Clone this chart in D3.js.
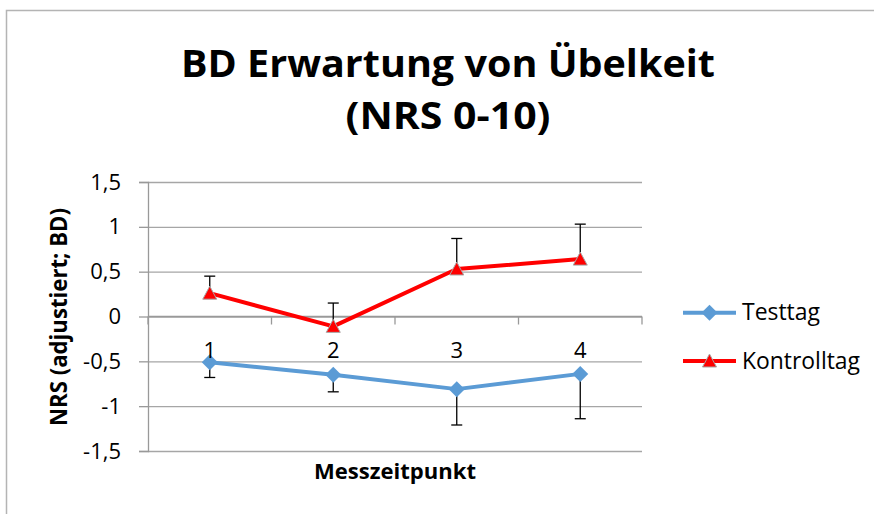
<!DOCTYPE html>
<html>
<head>
<meta charset="utf-8">
<script src="https://cdn.jsdelivr.net/npm/d3@7/dist/d3.min.js"></script>
<style>
    body { margin: 0; background: #fff; }
    svg text { font-family: "Open Sans", "DejaVu Sans", sans-serif; fill: #000; }
</style>
</head>
<body>
<div id="chart"></div>
<script>
// chart data
const categories = ["1", "2", "3", "4"];
const yTicks = [-1.5, -1, -0.5, 0, 0.5, 1, 1.5];

const testtag = [-0.51, -0.65, -0.81, -0.64];
const testtagErrMinus = [0.17, 0.19, 0.40, 0.50];

const kontrolltag = [0.26, -0.11, 0.53, 0.64];
const kontrolltagErrPlus = [0.19, 0.26, 0.34, 0.39];

const titleLines = ["BD Erwartung von Übelkeit", "(NRS 0-10)"];

const W = 874, H = 514;
const plot = { left: 148, right: 642, top: 182, bottom: 451 };

const svg = d3.select("#chart").append("svg")
    .attr("width", W)
    .attr("height", H);

// chart border (gray frame)
svg.append("path")
    .attr("d", `M6.5,${H + 5}V10.5H${W + 5}`)
    .attr("fill", "none")
    .attr("stroke", "#b4b4b4")
    .attr("stroke-width", 1.5);

// scales
const x = d3.scaleBand()
    .domain(categories)
    .range([plot.left, plot.right]);

const y = d3.scaleLinear()
    .domain([-1.5, 1.5])
    .range([plot.bottom, plot.top]);

const cx = d => x(d) + x.bandwidth() / 2;

// gridlines
svg.append("g")
    .attr("transform", `translate(${plot.left},0)`)
    .call(d3.axisLeft(y).tickValues(yTicks).tickSize(-(plot.right - plot.left)).tickFormat(""))
    .call(g => g.select(".domain").remove())
    .call(g => g.selectAll(".tick line").attr("stroke", "#a6a6a6").attr("stroke-width", 1.3));

// y axis
svg.append("g")
    .attr("transform", `translate(${plot.left},0)`)
    .call(d3.axisLeft(y).tickValues(yTicks).tickSize(9).tickPadding(18)
        .tickFormat(d => String(d).replace(".", ",")))
    .call(g => g.select(".domain").attr("stroke", "#999").attr("stroke-width", 1.3))
    .call(g => g.selectAll(".tick line").attr("stroke", "#999").attr("stroke-width", 1.3))
    .call(g => g.selectAll(".tick text").attr("font-size", 22).attr("font-family", null));

// x axis at y = 0 with ticks between categories
const xAxisG = svg.append("g")
    .attr("transform", `translate(0,${y(0)})`);

xAxisG.append("line")
    .attr("x1", plot.left).attr("x2", plot.right)
    .attr("stroke", "#999").attr("stroke-width", 1.3);

xAxisG.selectAll(".xtick")
    .data(categories.map(c => x(c)).concat([plot.right]))
    .join("line")
    .attr("class", "xtick")
    .attr("x1", d => d).attr("x2", d => d)
    .attr("y1", 0).attr("y2", 8)
    .attr("stroke", "#999").attr("stroke-width", 1.3);

// lines
const line = d3.line()
    .x((d, i) => cx(categories[i]))
    .y(d => y(d));

svg.append("path")
    .datum(testtag)
    .attr("d", line)
    .attr("fill", "none")
    .attr("stroke", "#5b9bd5")
    .attr("stroke-width", 4)
    .attr("stroke-linejoin", "round");

svg.append("path")
    .datum(kontrolltag)
    .attr("d", line)
    .attr("fill", "none")
    .attr("stroke", "#ff0000")
    .attr("stroke-width", 4)
    .attr("stroke-linejoin", "round");

// error bars
function errorBars(values, errs, sign) {
    const g = svg.append("g");
    values.forEach((v, i) => {
        const px = cx(categories[i]);
        const end = y(v + sign * errs[i]);
        g.append("line")
            .attr("x1", px).attr("x2", px)
            .attr("y1", y(v)).attr("y2", end)
            .attr("stroke", "#000").attr("stroke-width", 1.3);
        g.append("line")
            .attr("x1", px - 5.5).attr("x2", px + 5.5)
            .attr("y1", end).attr("y2", end)
            .attr("stroke", "#000").attr("stroke-width", 1.3);
    });
}
errorBars(testtag, testtagErrMinus, -1);
errorBars(kontrolltag, kontrolltagErrPlus, 1);

// markers
const diamond = "M0,-8L8,0L0,8L-8,0Z";
const triangle = "M0,-7L7,6L-7,6Z";

svg.selectAll(".dia")
    .data(testtag)
    .join("path")
    .attr("class", "dia")
    .attr("d", diamond)
    .attr("transform", (d, i) => `translate(${cx(categories[i])},${y(d)})`)
    .attr("fill", "#5b9bd5");

svg.selectAll(".tri")
    .data(kontrolltag)
    .join("path")
    .attr("class", "tri")
    .attr("d", triangle)
    .attr("transform", (d, i) => `translate(${cx(categories[i])},${y(d)})`)
    .attr("fill", "#ff0000")
    .attr("stroke", "#a6a6a6")
    .attr("stroke-width", 1);

// category labels
svg.append("g")
    .attr("transform", `translate(0,${y(0)})`)
    .call(d3.axisBottom(x).tickSize(0).tickPadding(26))
    .call(g => g.select(".domain").remove())
    .call(g => g.selectAll(".tick text").attr("font-size", 22).attr("font-family", null));

// title
svg.append("g")
    .selectAll("text")
    .data(titleLines)
    .join("text")
    .attr("x", 448)
    .attr("y", (d, i) => 77 + i * 51.6)
    .attr("text-anchor", "middle")
    .attr("font-size", 38)
    .attr("font-weight", "bold")
    .attr("textLength", (d, i) => i === 0 ? 534 : 205)
    .attr("lengthAdjust", "spacingAndGlyphs")
    .text(d => d);

// axis titles
svg.append("text")
    .attr("x", (plot.left + plot.right) / 2)
    .attr("y", 479.3)
    .attr("text-anchor", "middle")
    .attr("font-size", 21)
    .attr("font-weight", "bold")
    .attr("textLength", 162)
    .attr("lengthAdjust", "spacingAndGlyphs")
    .text("Messzeitpunkt");

svg.append("text")
    .attr("transform", `translate(66.5,317) rotate(-90)`)
    .attr("text-anchor", "middle")
    .attr("font-size", 23)
    .attr("font-weight", "bold")
    .attr("textLength", 218)
    .attr("lengthAdjust", "spacingAndGlyphs")
    .text("NRS (adjustiert; BD)");

// legend
const legendItems = [
    { name: "Testtag", color: "#5b9bd5", shape: diamond, stroke: "none", len: 78 },
    { name: "Kontrolltag", color: "#ff0000", shape: triangle, stroke: "#a6a6a6", len: 118 }
];

const legend = svg.append("g")
    .selectAll("g")
    .data(legendItems)
    .join("g")
    .attr("transform", (d, i) => `translate(683,${312.7 + i * 48.3})`);

legend.append("line")
    .attr("x1", 0).attr("x2", 53)
    .attr("stroke", d => d.color)
    .attr("stroke-width", 4);

legend.append("path")
    .attr("d", d => d.shape)
    .attr("transform", "translate(26.5,0)")
    .attr("fill", d => d.color)
    .attr("stroke", d => d.stroke);

legend.append("text")
    .attr("x", 59)
    .attr("y", 7.5)
    .attr("font-size", 23)
    .attr("textLength", d => d.len)
    .attr("lengthAdjust", "spacingAndGlyphs")
    .text(d => d.name);
</script>
</body>
</html>
